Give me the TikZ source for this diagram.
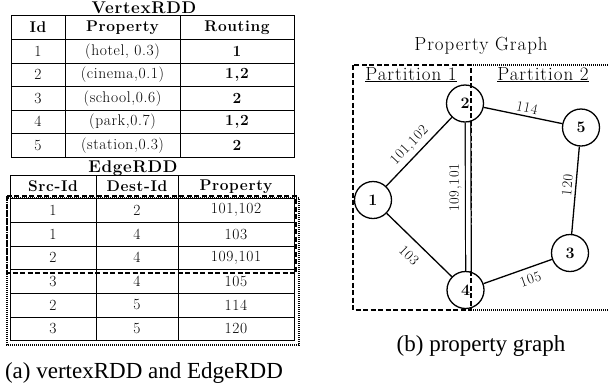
\documentclass[tikz,border=0pt]{standalone}
\usepackage{fontspec}
\newfontfamily\capfont{Liberation Serif}
\newfontfamily\tabfont[LetterSpace=4]{Latin Modern Roman}
\newfontfamily\grfont[LetterSpace=5]{Latin Modern Roman}
\begin{document}
\begin{tikzpicture}[x=1pt,y=-1pt,
  grid/.style={line width=0.9pt},
  ttl/.style={font=\tabfont\fontsize{17}{17}\selectfont\bfseries, anchor=base, inner sep=0pt},
  hdr/.style={font=\tabfont\fontsize{15.5}{15.5}\selectfont\bfseries, inner sep=0pt},
  cell/.style={font=\tabfont\fontsize{15.5}{15.5}\selectfont, inner sep=0pt},
  bcell/.style={font=\tabfont\fontsize{15.5}{15.5}\selectfont\bfseries, inner sep=0pt},
  dashbox/.style={line width=1.3pt, dash pattern=on 5pt off 2.5pt},
  dotbox/.style={line width=1.3pt, dash pattern=on 1pt off 1pt},
  vtx/.style={circle, draw, line width=1.3pt, minimum size=37pt, inner sep=0pt, font=\tabfont\fontsize{16}{16}\selectfont\bfseries},
  edge/.style={line width=1.3pt},
  lbl/.style={font=\grfont\fontsize{14.5}{14.5}\selectfont, inner sep=0pt, sloped},
  captxt/.style={font=\capfont\fontsize{23}{23}\selectfont, anchor=base, inner sep=0pt},
  gttl/.style={font=\grfont\fontsize{19}{19}\selectfont, anchor=base, inner sep=0pt}
]
\useasboundingbox (0,0) rectangle (608,389);

% ---------------- VertexRDD ----------------
\node[ttl] (vt) at (144,13) {VertexRDD};
\draw[grid] (11,15) rectangle (294,157);
\foreach \yy in {39.5,63,86.5,110,133.5} \draw[grid] (11,\yy) -- (294,\yy);
\foreach \xx in {65,180} \draw[grid] (\xx,15) -- (\xx,157);
\node[hdr] (vh1) at (38,27.25) {Id};
\node[hdr] (vh2) at (122.5,27.25) {Property};
\node[hdr] (vh3) at (237,27.25) {Routing};
\foreach \i/\yy/\p/\r in {1/51.25/{(hotel, 0.3)}/1, 2/74.75/{(cinema,0.1)}/{1,2}, 3/98.25/{(school,0.6)}/2, 4/121.75/{(park,0.7)}/{1,2}, 5/145.25/{(station,0.3)}/2}{
  \node[cell] (va\i) at (38,\yy) {\i};
  \node[cell] (vb\i) at (122.5,\yy) {\p};
  \node[bcell] (vc\i) at (237,\yy) {\r};
}

% ---------------- EdgeRDD ----------------
\node[ttl] (et) at (133,172) {EdgeRDD};
\draw[grid] (10,175) rectangle (294,340);
\foreach \yy in {198,222,246,269.5,293,317} \draw[grid] (10,\yy) -- (294,\yy);
\foreach \xx in {96,178} \draw[grid] (\xx,175) -- (\xx,340);
\node[hdr] (eh1) at (53,186.5) {Src-Id};
\node[hdr] (eh2) at (137,186.5) {Dest-Id};
\node[hdr] (eh3) at (236,186.5) {Property};
\foreach \i/\yy/\s/\d/\p in {1/210/1/2/{101,102}, 2/234/1/4/103, 3/257.75/2/4/{109,101}, 4/281.25/3/4/105, 5/305/2/5/114, 6/328.5/3/5/120}{
  \node[cell] (ea\i) at (53,\yy) {\s};
  \node[cell] (eb\i) at (137,\yy) {\d};
  \node[cell] (ec\i) at (236,\yy) {\p};
}
\draw[dotbox] (7,198) rectangle (299,345);
\draw[dashbox] (7,196) rectangle (296,273);

\node[captxt] (capa) at (144,378) {(a) vertexRDD and EdgeRDD};

% ---------------- Property graph ----------------
\node[gttl] (gt) at (481,50) {Property Graph};
\draw[dashbox] (353,65) rectangle (471,310);
\coordinate (dt1) at (471,65);
\coordinate (dt2) at (608,65);
\coordinate (db1) at (471,310);
\coordinate (db2) at (608,310);
\draw[dotbox] (dt1) -- (dt2);
\draw[dotbox] (db1) -- (db2);
\node[gttl] (p1) at (411,80) {\underline{Partition 1}};
\node[gttl] (p2) at (543,80) {\underline{Partition 2}};

\node[vtx] (n1) at (373,200) {1};
\node[vtx] (n2) at (465,103.5) {2};
\node[vtx] (n5) at (581,127.5) {5};
\node[vtx] (n3) at (570,253) {3};
\node[vtx] (n4) at (465.5,290) {4};

\draw[edge] (n1) -- node[lbl, above=4pt, pos=0.48] {101,102} (n2);
\draw[edge] (n1) -- node[lbl, below=9pt, pos=0.5] {103} (n4);
\draw[edge] (n2) -- node[lbl, above=3pt, pos=0.53] {114} (n5);
\draw[edge] (n4) -- node[lbl, below=6pt, pos=0.63] {105} (n3);
\draw[edge] (n3) -- node[lbl, above=3pt, pos=0.55] {120} (n5);
\draw[line width=1.2pt, double, double distance=4.4pt] ([xshift=3pt]n4.north) -- node[font=\grfont\fontsize{14.5}{14.5}\selectfont, rotate=90, anchor=south, inner xsep=0pt, inner ysep=6pt, pos=0.56] {109,101} ([xshift=3pt]n2.south);

\node[captxt] (capb) at (481,351.5) {(b) property graph};
\end{tikzpicture}
\end{document}
